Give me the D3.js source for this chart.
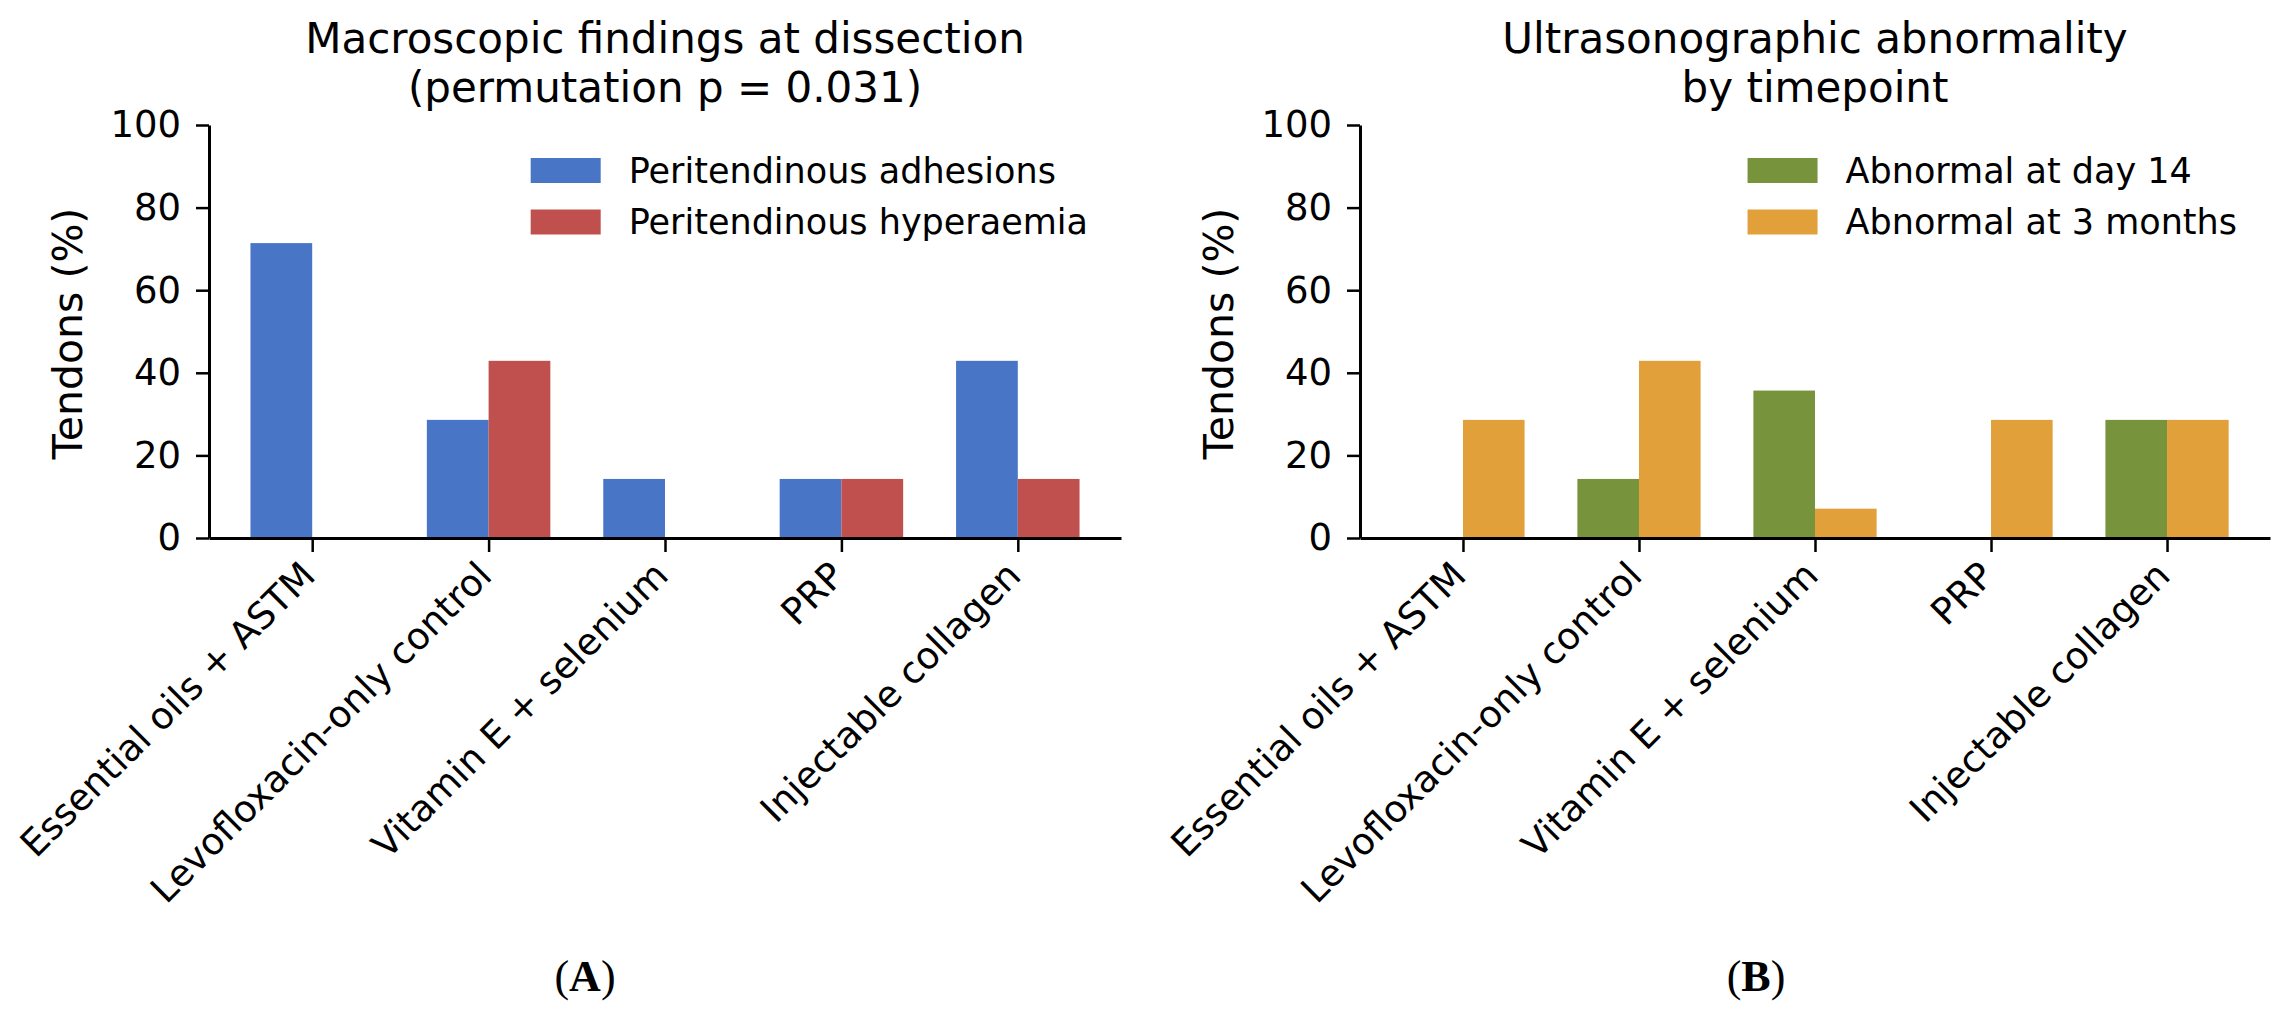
<!DOCTYPE html>
<html><head><meta charset="utf-8">
<script src="https://cdn.jsdelivr.net/npm/d3@7"></script>
<style>body{margin:0;background:#fff}</style>
</head><body><svg id="c" width="2288" height="1016"></svg>
<script>
const categories = ["Essential oils + ASTM","Levofloxacin-only control","Vitamin E + selenium","PRP","Injectable collagen"];
const adhesions = [71.4, 28.6, 14.3, 14.3, 42.9];
const hyperaemia = [0, 42.9, 0, 14.3, 14.3];
const day14 = [0, 14.3, 35.7, 0, 28.6];
const months3 = [28.6, 42.9, 7.1, 28.6, 28.6];
const yTicks = [0, 20, 40, 60, 80, 100];

const panels = [
  {left: 209, right: 1121, title: ["Macroscopic findings at dissection", "(permutation p = 0.031)"],
   series: [{name: "Peritendinous adhesions", values: adhesions, color: "#4875c6"},
            {name: "Peritendinous hyperaemia", values: hyperaemia, color: "#c0504d"}],
   letter: "A", letterX: 585},
  {left: 1360, right: 2270, title: ["Ultrasonographic abnormality", "by timepoint"],
   series: [{name: "Abnormal at day 14", values: day14, color: "#77933c"},
            {name: "Abnormal at 3 months", values: months3, color: "#e1a03a"}],
   letter: "B", letterX: 1756}
];

const svg = d3.select("#c");
const FONT = "DejaVu Sans, sans-serif";
const plotTop = 125, plotBottom = 538, barW = 0.35;

panels.forEach(p => {
  const x = d3.scaleLinear().domain([-0.585, 4.585]).range([p.left, p.right]);
  const y = d3.scaleLinear().domain([0, 100]).range([plotBottom, plotTop]);
  const g = svg.append("g");

  // bars
  p.series.forEach((s, si) => {
    const off = (si === 0 ? -barW / 2 : barW / 2);
    g.selectAll(null).data(s.values).enter().append("rect")
      .attr("x", (d, i) => x(i + off - barW / 2))
      .attr("width", x(barW) - x(0))
      .attr("y", d => y(d))
      .attr("height", d => y(0) - y(d))
      .attr("fill", s.color);
  });

  // y axis
  const ya = g.append("g").attr("transform", `translate(${p.left},0)`)
    .call(d3.axisLeft(y).tickValues(yTicks).tickSize(13).tickSizeOuter(0).tickPadding(15));
  ya.select(".domain").attr("stroke", "#000").attr("stroke-width", 3);
  ya.selectAll(".tick line").attr("stroke", "#000").attr("stroke-width", 2.5);
  ya.selectAll(".tick text").attr("font-family", FONT).attr("font-size", 37).attr("fill", "#000");

  // x axis
  const xa = g.append("g").attr("transform", `translate(0,${plotBottom})`)
    .call(d3.axisBottom(x).tickValues(d3.range(categories.length)).tickFormat(i => categories[i])
      .tickSize(14).tickSizeOuter(0));
  xa.select(".domain").attr("stroke", "#000").attr("stroke-width", 3);
  xa.selectAll(".tick line").attr("stroke", "#000").attr("stroke-width", 2.5);
  xa.selectAll(".tick text").attr("font-family", FONT).attr("font-size", 37).attr("fill", "#000")
    .attr("y", 0).attr("dy", "0.75em").attr("text-anchor", "end")
    .attr("transform", "translate(-15,20) rotate(-45)");

  // y label
  g.append("text").attr("transform", `translate(${p.left - 127},${(plotTop + plotBottom) / 2 + 2}) rotate(-90)`)
    .attr("text-anchor", "middle").attr("font-family", FONT).attr("font-size", 41)
    .text("Tendons (%)");

  // title
  const cx = (p.left + p.right) / 2;
  p.title.forEach((t, i) => {
    g.append("text").attr("x", cx).attr("y", 53 + i * 49).attr("text-anchor", "middle")
      .attr("font-family", FONT).attr("font-size", 42).text(t);
  });

  // legend
  const lg = g.append("g");
  const texts = p.series.map((s, i) => lg.append("text").attr("font-family", FONT).attr("font-size", 35)
      .attr("y", 170.5 + i * 51.5).attr("dy", "0.35em").text(s.name));
  const maxW = d3.max(texts, t => t.node().getComputedTextLength());
  const textX = p.right - 33 - maxW;
  texts.forEach(t => t.attr("x", textX));
  p.series.forEach((s, i) => {
    lg.append("rect").attr("x", textX - 98).attr("y", 158 + i * 51.5).attr("width", 70).attr("height", 25)
      .attr("fill", s.color);
  });

  // panel letter
  const lt = svg.append("text").attr("x", p.letterX).attr("y", 991).attr("text-anchor", "middle")
    .attr("font-family", "Liberation Serif, Times New Roman, serif").attr("font-size", 44);
  lt.append("tspan").text("(");
  lt.append("tspan").attr("font-weight", "bold").text(p.letter);
  lt.append("tspan").text(")");
});
</script></body></html>
